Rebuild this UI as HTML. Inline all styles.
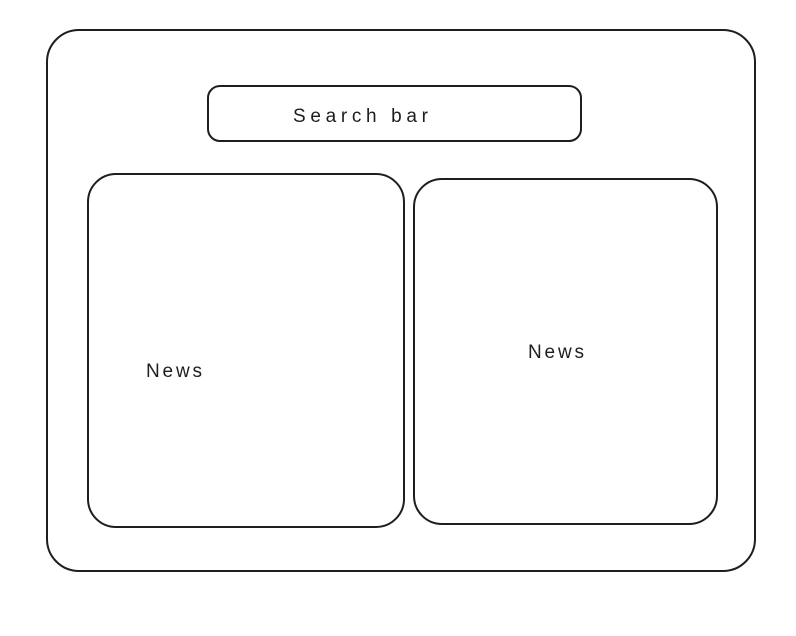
<!DOCTYPE html>
<html><head><style>
html,body{margin:0;padding:0;background:#fff;width:796px;height:636px;overflow:hidden}
svg{display:block}
text{font-family:"Liberation Sans",sans-serif;fill:#1e1e1e}
</style></head><body>
<svg width="796" height="636" viewBox="0 0 796 636" fill="none" stroke="#1e1e1e" stroke-width="2" stroke-linecap="round">
<rect x="47" y="30" width="708" height="541" rx="32"/>
<rect x="208" y="86" width="373" height="55" rx="12"/>
<rect x="88" y="174" width="316" height="353" rx="28"/>
<rect x="414" y="179" width="303" height="345" rx="28"/>
<text x="293" y="122" font-size="19" stroke="none" textLength="135" lengthAdjust="spacing">Search bar</text>
<text x="146" y="377" font-size="19" stroke="none" textLength="56" lengthAdjust="spacing">News</text>
<text x="528" y="358" font-size="19" stroke="none" textLength="56" lengthAdjust="spacing">News</text>
</svg>
</body></html>
